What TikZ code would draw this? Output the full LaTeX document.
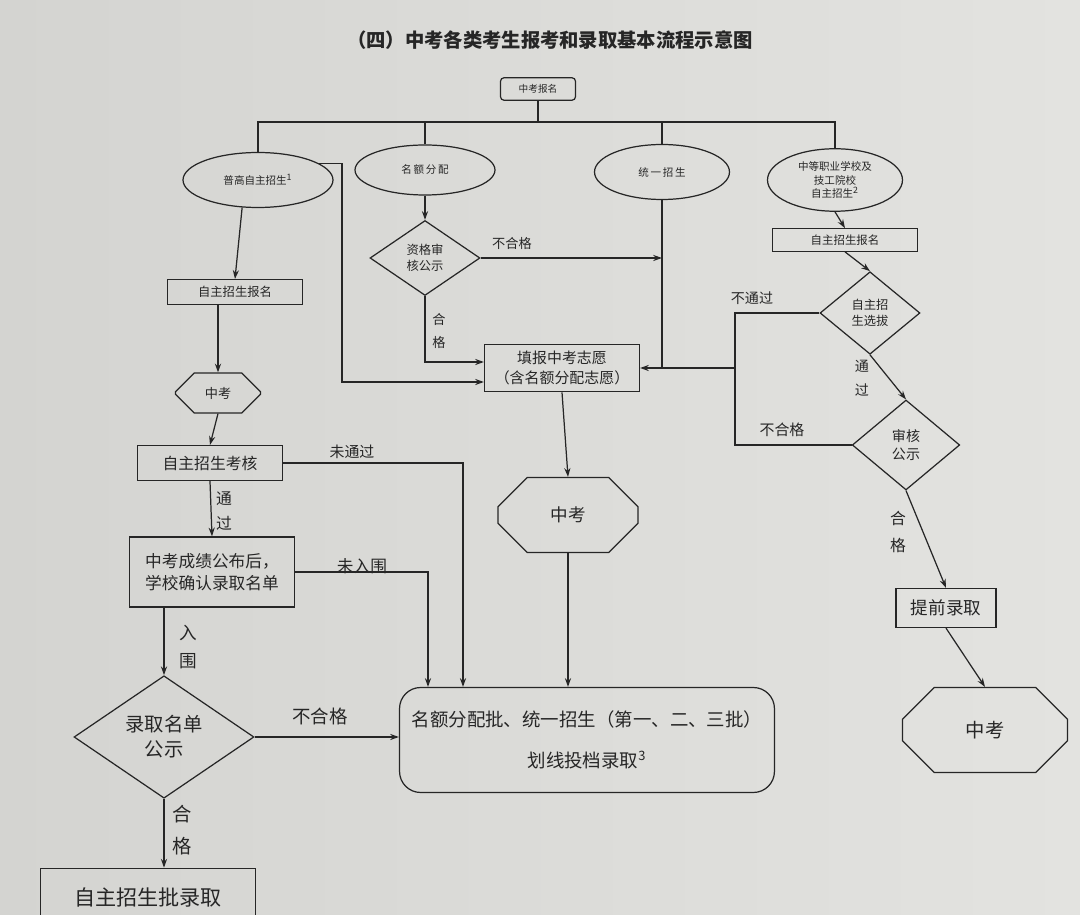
\documentclass[tikz,border=0pt]{standalone}
\usepackage{fontspec}
\setmainfont{Noto Sans CJK SC}
\usetikzlibrary{shapes.geometric,shapes.misc,arrows.meta,calc}
\newcommand\myfs[1]{\fontsize{#1}{\fpeval{1.3*#1}}\selectfont}
\definecolor{paperL}{HTML}{D4D4D1}
\definecolor{paperR}{HTML}{E3E3E0}
\definecolor{ink}{HTML}{262626}
\tikzset{
  base/.style={draw=ink, line width=0.7pt, text=ink, inner sep=1pt, align=center},
  box/.style={base, rectangle},
  ell/.style={base, ellipse},
  dia/.style={base, diamond, inner sep=0pt},
  oct/.style={base, chamfered rectangle, chamfered rectangle xsep=#1, chamfered rectangle ysep=#1},
  arr/.style={draw=ink, line width=0.7pt, -{Stealth[length=5pt,width=3.5pt]}},
  ln/.style={draw=ink, line width=0.7pt},
  lab/.style={text=ink, inner sep=1pt, align=center},
}
\begin{document}
\begin{tikzpicture}[x=0.02cm,y=-0.02cm]
\shade[left color=paperL, right color=paperR] (0,0) rectangle (1080,915);
\useasboundingbox (0,0) rectangle (1080,915);

\node[lab, font=\bfseries\myfs{11}] (title) at (550,40) {（四）中考各类考生报考和录取基本流程示意图};

% top
\node[box, rounded corners=2pt, minimum width=1.5cm, minimum height=0.45cm, font=\myfs{5.5}] (top) at (538,89) {中考报名};
\coordinate (bar) at (0,122);

\node[ell, minimum width=3cm, minimum height=1.1cm, font=\myfs{6}] (e1) at (258,180) {普高自主招生\textsuperscript{1}};
\node[ell, minimum width=2.8cm, minimum height=1cm, font=\myfs{6}] (e2) at (425,170) {名\,额\,分\,配};
\node[ell, minimum width=2.7cm, minimum height=1.1cm, font=\myfs{6}] (e3) at (662,172) {统\,一\,招\,生};
\node[ell, minimum width=2.7cm, minimum height=1.25cm, font=\myfs{6}] (e4) at (835,180) {中等职业学校及\\技工院校\\自主招生\textsuperscript{2}};

\draw[ln] (e1.north) |- (e4.north |- bar) -- (e4.north);
\draw[ln] (top.south) -- (top.south |- bar);
\draw[ln] (e2.north) -- (e2.north |- bar);
\draw[ln] (e3.north) -- (e3.north |- bar);

% left column
\node[box, minimum width=2.7cm, minimum height=0.5cm, font=\myfs{7}] (b1) at (235,292) {自主招生报名};
\node[oct=0.22cm, minimum width=1.7cm, minimum height=0.8cm, font=\myfs{7.5}] (k1) at (218,393) {中考};
\node[box, minimum width=2.9cm, minimum height=0.7cm, font=\myfs{9}] (b2) at (210,463) {自主招生考核};
\node[box, minimum width=3.3cm, minimum height=1.4cm, font=\myfs{9.5}] (b3) at (212,572) {中考成绩公布后，\\学校确认录取名单};
\node[dia, aspect=1.47, minimum width=3.6cm, minimum height=2.45cm, font=\myfs{11}] (d1) at (164,737) {录取名单\\公示};
\node[box, minimum width=4.3cm, minimum height=1.15cm, font=\myfs{12}] (b4) at (148,897) {自主招生批录取};

% middle column
\node[dia, aspect=1.47, minimum width=2.2cm, minimum height=1.5cm, font=\myfs{7}] (d2) at (425,258) {资格审\\核公示};
\node[box, minimum width=3.1cm, minimum height=0.95cm, font=\myfs{8.5}] (tb) at (562,368) {填报中考志愿\\（含名额分配志愿）};
\node[oct=0.4cm, minimum width=2.8cm, minimum height=1.5cm, font=\myfs{10}] (k2) at (568,515) {中考};
\node[box, rounded corners=12pt, minimum width=7.5cm, minimum height=2.1cm, font=\myfs{10.5}] (big) at (587,740) {名额分配批、统一招生（第一、二、三批）\\[10pt]划线投档录取\textsuperscript{3}};

% right column
\node[box, minimum width=2.9cm, minimum height=0.45cm, font=\myfs{6.5}] (b5) at (845,240) {自主招生报名};
\node[dia, aspect=1.2, minimum width=2cm, minimum height=1.65cm, font=\myfs{7}] (d3) at (870,313) {自主招\\生选拔};
\node[dia, aspect=1.2, minimum width=2.15cm, minimum height=1.8cm, font=\myfs{8}] (d4) at (906,445) {审核\\公示};
\node[box, minimum width=2cm, minimum height=0.78cm, font=\myfs{10}] (b6) at (946,608) {提前录取};
\node[oct=0.5cm, minimum width=3.3cm, minimum height=1.7cm, font=\myfs{11}] (k3) at (985,730) {中考};

\coordinate (x1) at (463,0);
\coordinate (x2) at (428,0);
\coordinate (x3) at (342,0);
\coordinate (x4) at (735,0);

% left edges
\draw[arr] (e1.240) -- (b1.north);
\draw[arr] (k1.north |- b1.south) -- (k1.north);
\draw[arr] (k1.south) -- (b2.north);
\draw[arr] (b2.south) -- (b3.north);
\draw[arr] (d1.north |- b3.south) -- (d1.north);
\draw[arr] (d1.south) -- (d1.south |- b4.north);
\draw[arr] (d1.east) -- (big.west |- d1.east);
\draw[arr] (b2.east) -| (x1 |- big.north);
\draw[arr] (b3.east) -| (x2 |- big.north);
\node[lab, font=\myfs{9}] (l1) at (224,511) {通\\[3pt]过};
\node[lab, font=\myfs{10}] (l2) at (188,647) {入\\[3pt]围};
\node[lab, font=\myfs{11}] (l3) at (182,830) {合\\[4pt]格};
\node[lab, font=\myfs{10.5}] (l4) at (320,716) {不合格};
\node[lab, font=\myfs{8.5}] (l5) at (352,452) {未通过};
\node[lab, font=\myfs{9.5}] (l6) at (362,566) {未入围};

% middle edges
\draw[arr] (e2.south) -- (d2.north);
\draw[arr] (d2.east) -- (d2.east -| e3.south);
\draw[arr] (e3.south) |- (tb.east);
\draw[arr] (d2.south) |- ($(tb.west)+(0,-6)$);
\draw[arr] (e1.15) -- (e1.15 -| x3) |- ($(tb.west)+(0,14)$);
\draw[arr] (tb.south) -- (k2.north);
\draw[arr] (k2.south) -- (k2.south |- big.north);
\node[lab, font=\myfs{7.5}] (l7) at (512,243) {不合格};
\node[lab, font=\myfs{7.5}] (l8) at (439,331) {合\\[3pt]格};

% right edges
\draw[arr] (e4.south) -- (b5.north);
\draw[arr] (b5.south) -- (d3.north);
\draw[arr] (d3.south) -- (d4.north);
\draw[arr] (d4.south) -- (b6.north);
\draw[arr] (b6.south) -- (k3.north);
\draw[ln] (d3.west) -| (x4 |- d4.west) -- (d4.west);
\draw[ln] (x4 |- tb.east) -- (e3.south |- tb.east);
\node[lab, font=\myfs{8}] (l9) at (752,298) {不通过};
\node[lab, font=\myfs{8.5}] (l10) at (782,430) {不合格};
\node[lab, font=\myfs{8}] (l11) at (862,378) {通\\[3pt]过};
\node[lab, font=\myfs{9}] (l12) at (898,532) {合\\[4pt]格};
\end{tikzpicture}
\end{document}
